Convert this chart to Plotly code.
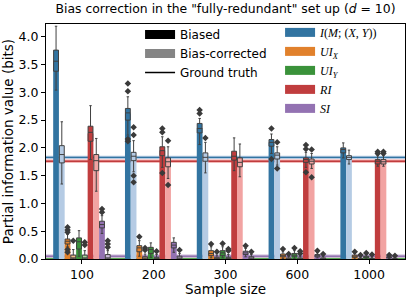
import plotly.graph_objects as go

# ---------------- data ----------------
sample_sizes = ["100", "200", "300", "600", "1000"]
measure_names = ["<i>I</i>(<i>M</i>; (<i>X</i>, <i>Y</i>))", "<i>UI<sub>X</sub></i>",
                 "<i>UI<sub>Y</sub></i>", "<i>RI</i>", "<i>SI</i>"]
ground_truth = [1.83, 0.0, 0.0, 1.76, 0.05]

# each box entry: (lower whisker, q1, median, q3, upper whisker)
I_biased_mean = [3.57, 2.62, 2.36, 2.10, 1.97]
I_biased_box = [(3.04, 3.38, 3.56, 3.76, 4.19), (2.23, 2.50, 2.63, 2.71, 2.92),
                (2.06, 2.27, 2.35, 2.44, 2.53), (1.90, 2.03, 2.10, 2.15, 2.25),
                (1.82, 1.91, 1.97, 2.00, 2.09)]
I_biased_out = [[], [3.16, 3.02, 2.16, 2.12], [2.68, 2.62], [2.35, 1.80], []]

I_corr_mean = [1.88, 1.85, 1.84, 1.86, 1.83]
I_corr_box = [(1.35, 1.73, 1.88, 2.04, 2.47), (1.57, 1.77, 1.85, 1.92, 2.13),
              (1.55, 1.76, 1.83, 1.91, 2.10), (1.69, 1.80, 1.87, 1.91, 2.02),
              (1.71, 1.79, 1.83, 1.86, 1.96)]
I_corr_out = [[], [2.37, 2.23, 1.50, 1.38], [2.18], [2.10, 1.63], []]

UIX_biased_mean = [0.32, 0.19, 0.11, 0.07, 0.05]
UIX_biased_box = [(0.22, 0.27, 0.32, 0.36, 0.44), (0.05, 0.13, 0.20, 0.24, 0.33),
                  (0.02, 0.06, 0.10, 0.15, 0.22), (0.01, 0.04, 0.06, 0.09, 0.13),
                  (0.00, 0.03, 0.05, 0.07, 0.10)]
UIX_biased_out = [[0.57, 0.52, 0.48, 0.17, 0.12], [0.40], [0.27], [0.18], [0.13]]

UIX_corr_mean = [0.05, 0.03, 0.02, 0.01, 0.01]
UIX_corr_box = [(0.0, 0.0, 0.02, 0.07, 0.17), (0.0, 0.0, 0.01, 0.04, 0.09),
                (0.0, 0.0, 0.01, 0.03, 0.07), (0.0, 0.0, 0.0, 0.02, 0.05),
                (0.0, 0.0, 0.0, 0.01, 0.03)]
UIX_corr_out = [[0.33], [0.16, 0.20], [0.13], [0.09], [0.07]]

UIY_biased_mean = [0.30, 0.16, 0.11, 0.08, 0.04]
UIY_biased_box = [(0.05, 0.18, 0.31, 0.38, 0.51), (0.03, 0.10, 0.17, 0.21, 0.29),
                  (0.02, 0.06, 0.11, 0.15, 0.22), (0.01, 0.05, 0.07, 0.10, 0.15),
                  (0.00, 0.02, 0.03, 0.05, 0.08)]
UIY_biased_out = [[], [], [0.28], [0.20], [0.11]]

UIY_corr_mean = [0.05, 0.03, 0.02, 0.01, 0.01]
UIY_corr_box = [(0.0, 0.0, 0.02, 0.07, 0.15), (0.0, 0.0, 0.01, 0.03, 0.08),
                (0.0, 0.0, 0.01, 0.03, 0.08), (0.0, 0.0, 0.0, 0.02, 0.05),
                (0.0, 0.0, 0.0, 0.01, 0.03)]
UIY_corr_out = [[0.30, 0.25], [0.14], [0.15, 0.18], [0.10, 0.14], [0.08]]

RI_biased_mean = [2.26, 1.95, 1.86, 1.79, 1.76]
RI_biased_box = [(1.79, 2.12, 2.28, 2.39, 2.76), (1.65, 1.86, 1.95, 2.02, 2.20),
                 (1.59, 1.78, 1.85, 1.94, 2.18), (1.65, 1.74, 1.79, 1.82, 1.92),
                 (1.67, 1.71, 1.76, 1.79, 1.86)]
RI_biased_out = [[], [2.35, 2.28, 1.55], [], [2.05, 1.98, 1.56], [1.93, 1.90]]

RI_corr_mean = [1.74, 1.75, 1.74, 1.76, 1.75]
RI_corr_box = [(1.22, 1.59, 1.77, 1.88, 2.17), (1.45, 1.66, 1.75, 1.82, 2.02),
               (1.48, 1.66, 1.74, 1.82, 2.07), (1.63, 1.71, 1.76, 1.80, 1.90),
               (1.67, 1.71, 1.75, 1.79, 1.86)]
RI_corr_out = [[], [2.13, 1.33], [], [1.97, 1.47], [1.93, 1.90]]

SI_biased_mean = [0.62, 0.25, 0.11, 0.06, 0.03]
SI_biased_box = [(0.46, 0.56, 0.62, 0.68, 0.78), (0.12, 0.20, 0.25, 0.30, 0.38),
                 (0.04, 0.08, 0.11, 0.14, 0.19), (0.02, 0.04, 0.06, 0.08, 0.11),
                 (0.01, 0.02, 0.03, 0.04, 0.05)]
SI_biased_out = [[0.90, 0.84], [], [0.24], [0.15], [0.07]]

SI_corr_mean = [0.05, 0.03, 0.02, 0.01, 0.01]
SI_corr_box = [(0.0, 0.0, 0.02, 0.08, 0.15), (0.0, 0.0, 0.01, 0.05, 0.10),
               (0.0, 0.0, 0.01, 0.04, 0.08), (0.0, 0.0, 0.0, 0.02, 0.05),
               (0.0, 0.0, 0.0, 0.01, 0.03)]
SI_corr_out = [[0.33, 0.27, 0.21], [0.16], [0.13], [0.09], [0.06]]

# ---------------- styles ----------------
dark_colors = ["#3274a1", "#e1812c", "#3a923a", "#c03d3e", "#9372b2"]
light_colors = ["#b5cbe4", "#f2bb8a", "#a5d69a", "#f2a3a2", "#c8b6d6"]
edge = "#404040"
FONT = "DejaVu Sans"

series = [
    (0, True, I_biased_mean, I_biased_box, I_biased_out),
    (0, False, I_corr_mean, I_corr_box, I_corr_out),
    (1, True, UIX_biased_mean, UIX_biased_box, UIX_biased_out),
    (1, False, UIX_corr_mean, UIX_corr_box, UIX_corr_out),
    (2, True, UIY_biased_mean, UIY_biased_box, UIY_biased_out),
    (2, False, UIY_corr_mean, UIY_corr_box, UIY_corr_out),
    (3, True, RI_biased_mean, RI_biased_box, RI_biased_out),
    (3, False, RI_corr_mean, RI_corr_box, RI_corr_out),
    (4, True, SI_biased_mean, SI_biased_box, SI_biased_out),
    (4, False, SI_corr_mean, SI_corr_box, SI_corr_out),
]

n_slots = len(series)
group_w = 0.8
slot_w = group_w / n_slots

fig = go.Figure()

for k, (m, biased, means, boxes, outs) in enumerate(series):
    color = dark_colors[m] if biased else light_colors[m]
    off = -group_w / 2 + slot_w / 2 + slot_w * k
    xs = [i + off for i in range(len(sample_sizes))]
    fig.add_trace(go.Bar(x=xs, y=means, width=slot_w, marker=dict(color=color, line=dict(width=0)),
                         showlegend=False, hoverinfo="skip"))
    fig.add_trace(go.Box(x=xs,
                         lowerfence=[b[0] for b in boxes], q1=[b[1] for b in boxes],
                         median=[b[2] for b in boxes], q3=[b[3] for b in boxes],
                         upperfence=[b[4] for b in boxes],
                         width=slot_w * 0.85, whiskerwidth=0.5, fillcolor=color,
                         line=dict(color=edge, width=1), boxpoints=False, showlegend=False,
                         hoverinfo="skip"))
    fx, fy = [], []
    for i, o in enumerate(outs):
        for v in o:
            fx.append(xs[i])
            fy.append(v)
    if fx:
        fig.add_trace(go.Scatter(x=fx, y=fy, mode="markers",
                                 marker=dict(symbol="diamond", size=5, color="#3a3a3a"),
                                 showlegend=False, hoverinfo="skip"))

# ground truth lines
for m, t in enumerate(ground_truth):
    fig.add_shape(type="line", xref="paper", x0=0, x1=1, yref="y", y0=t, y1=t,
                  line=dict(color=light_colors[m], width=3.2), layer="below")
    fig.add_shape(type="line", xref="paper", x0=0, x1=1, yref="y", y0=t, y1=t,
                  line=dict(color=dark_colors[m], width=1.4), layer="below")

# legend 1
fig.add_trace(go.Scatter(x=[None], y=[None], mode="lines", name="Biased",
                         line=dict(color="black", width=9), legend="legend"))
fig.add_trace(go.Scatter(x=[None], y=[None], mode="lines", name="Bias-corrected",
                         line=dict(color="#858585", width=9), legend="legend"))
fig.add_trace(go.Scatter(x=[None], y=[None], mode="lines", name="Ground truth",
                         line=dict(color="black", width=1.5), legend="legend"))
# legend 2
for m, nm in enumerate(measure_names):
    fig.add_trace(go.Scatter(x=[None], y=[None], mode="lines", name=nm,
                             line=dict(color=dark_colors[m], width=9), legend="legend2"))

fig.update_layout(
    width=407, height=297,
    margin=dict(l=46, r=2, t=24, b=38),
    paper_bgcolor="white", plot_bgcolor="white",
    font=dict(family=FONT, size=12, color="black"),
    barmode="overlay", boxmode="overlay",
    title=dict(text='Bias correction in the "fully-redundant" set up (<i>d</i> = 10)',
               xref="paper", x=0.5, xanchor="center", yref="container", y=0.97, yanchor="middle",
               font=dict(size=12.4, family=FONT)),
    xaxis=dict(range=[-0.5, 4.5], tickvals=list(range(len(sample_sizes))), ticktext=sample_sizes,
               showline=True, mirror=True, linecolor="black", linewidth=1,
               ticks="outside", ticklen=4, tickcolor="black", showgrid=False, zeroline=False,
               tickfont=dict(size=12.5),
               title=dict(text="Sample size", font=dict(size=13.5), standoff=2)),
    yaxis=dict(range=[0, 4.23], tickvals=[0, 0.5, 1, 1.5, 2, 2.5, 3, 3.5, 4], tickformat=".1f",
               showline=True, mirror=True, linecolor="black", linewidth=1,
               ticks="outside", ticklen=4, tickcolor="black", showgrid=False, zeroline=False,
               tickfont=dict(size=12.5),
               title=dict(text="Partial information value (bits)", font=dict(size=13.5), standoff=4)),
    legend=dict(x=0.262, y=1.017, xanchor="left", yanchor="top", bgcolor="rgba(0,0,0,0)",
                font=dict(size=12, family=FONT), tracegroupgap=0),
    legend2=dict(x=0.652, y=1.026, xanchor="left", yanchor="top", bgcolor="rgba(0,0,0,0)",
                 font=dict(size=12, family="Liberation Serif"), tracegroupgap=0),
)

fig.write_html("out.html", config={"displayModeBar": False},
               post_script="document.body.style.margin='0';")
